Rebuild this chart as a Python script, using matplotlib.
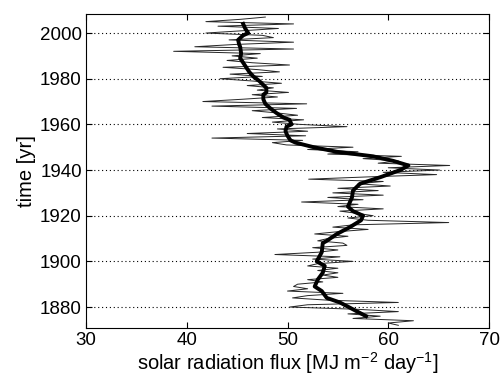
import matplotlib
matplotlib.use("Agg")
import matplotlib.pyplot as plt
import numpy as np

plt.rcParams['font.family'] = ['Liberation Sans', 'DejaVu Sans']
plt.rcParams['mathtext.default'] = 'regular'

# Annual values (thin noisy line), years 2007 down to 1872
years_raw = list(range(2007, 1871, -1))
flux_raw = [
    47.8, 45.3, 41.9, 50.6, 43.1, 49.1, 45.5, 41.9, 47.5, 48.6,   # 2007-1998
    44.2, 50.6, 44.8, 40.8, 50.6, 38.7, 47.3, 44.5, 47.0, 44.0,   # 1997-1988
    46.5, 50.2, 43.6, 47.0, 49.2, 44.3, 47.5, 43.3, 46.5, 49.4,   # 1987-1978
    46.0, 48.6, 47.0, 50.1, 46.5, 49.0, 45.5, 41.6, 51.9, 42.5,   # 1977-1968
    50.9, 46.5, 49.0, 51.0, 47.5, 51.6, 48.5, 51.2, 55.9, 49.0,   # 1967-1958
    52.0, 46.0, 51.8, 42.5, 51.5, 48.5, 49.9, 56.5, 52.0, 57.0,   # 1957-1948
    54.0, 61.3, 57.5, 61.0, 59.0, 66.1, 60.0, 65.1, 59.5, 64.8,   # 1947-1938
    58.0, 52.1, 59.5, 57.0, 60.2, 55.0, 59.0, 54.5, 59.5, 54.0,   # 1937-1928
    57.5, 51.4, 57.0, 55.0, 59.5, 55.2, 57.0, 58.5, 56.0, 58.0,   # 1927-1918
    66.0, 56.5, 54.5, 58.0, 55.0, 52.7, 56.0, 54.0, 53.0, 55.5,   # 1917-1908
    55.9, 52.5, 55.0, 53.0, 48.75, 55.2, 52.5, 56.5, 53.0, 52.0,  # 1907-1898
    55.0, 53.0, 55.0, 53.5, 55.0, 52.0, 53.5, 51.0, 50.6, 52.0,   # 1897-1888
    50.0, 55.5, 52.0, 50.5, 54.0, 61.0, 52.0, 50.2, 57.0, 61.0,   # 1887-1878
    56.0, 59.2, 56.5, 62.5, 60.0, 61.0,                           # 1877-1872
]

# Smoothed series (thick line)
years_smooth = [2004, 2002, 2000, 1999, 1997, 1995, 1994, 1991, 1989, 1987,
                1985, 1983, 1981, 1979, 1976, 1974, 1973, 1971, 1969, 1967,
                1965, 1963, 1962, 1960, 1959, 1957, 1955, 1953, 1952, 1950,
                1948, 1946, 1944, 1942, 1940, 1937, 1934, 1931, 1928, 1924,
                1922, 1920, 1918, 1915, 1912, 1909, 1908, 1904, 1900, 1898,
                1895, 1892, 1889, 1887, 1884, 1882, 1879, 1876]
flux_smooth = [45.6, 45.8, 46.1, 45.6, 45.1, 45.2, 45.3, 45.4, 45.3, 45.6,
               45.9, 46.2, 46.6, 47.2, 47.9, 47.9, 47.6, 47.6, 47.8, 48.3,
               48.9, 49.6, 50.2, 50.4, 49.9, 49.8, 50.0, 50.3, 50.8, 52.6,
               54.9, 58.5, 60.5, 62.0, 61.2, 59.3, 57.2, 56.5, 56.4, 56.0,
               56.5, 57.5, 57.3, 56.2, 54.9, 53.9, 53.5, 53.4, 52.9, 53.7,
               53.5, 53.0, 52.7, 53.4, 53.9, 55.2, 56.5, 57.8]

xticks = [30, 40, 50, 60, 70]
yticks = [1880, 1900, 1920, 1940, 1960, 1980, 2000]

fig = plt.figure(figsize=(5.0, 3.81), dpi=100)
ax = fig.add_axes([0.172, 0.139, 0.806, 0.824])

ax.plot(flux_raw, years_raw, color='0.15', lw=0.7)
ax.plot(flux_smooth, years_smooth, color='black', lw=2.8, solid_joinstyle='round')

ax.set_xlim(30, 70)
ax.set_ylim(1870.8, 2008.3)
ax.set_xticks(xticks)
ax.set_yticks(yticks)
ax.tick_params(direction='in', top=True, right=True, labelsize=13.5, length=4, width=0.8, pad=3)
ax.yaxis.grid(True, linestyle=(0, (1, 2.5)), color='black', linewidth=0.8)
ax.set_axisbelow(True)
for s in ax.spines.values():
    s.set_linewidth(0.8)

ax.set_xlabel('solar radiation flux [MJ m$^{-2}$ day$^{-1}$]', fontsize=14.5, labelpad=1)
ax.set_ylabel('time [yr]', fontsize=14.5, labelpad=3)

fig.savefig('out.png', dpi=100)
